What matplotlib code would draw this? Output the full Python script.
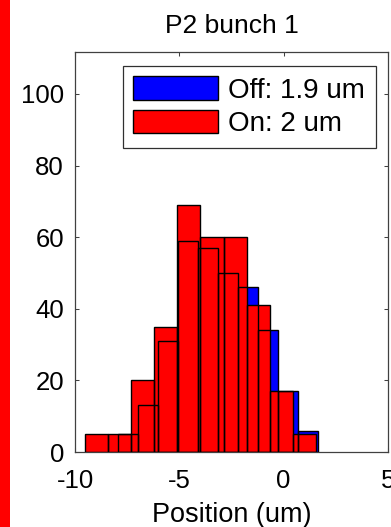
import numpy as np
import matplotlib
matplotlib.use('Agg')
from matplotlib import pyplot as plt
from matplotlib.patches import Patch, Rectangle

plt.rcParams['font.family'] = ['Liberation Sans', 'DejaVu Sans']
plt.rcParams['axes.unicode_minus'] = False

# histogram counts, 10 bins each between min and max position (um)
off_counts = [5, 13, 31, 59, 57, 50, 46, 34, 17, 6]
off_min, off_max = -7.96, 1.63
on_counts = [5, 5, 20, 35, 69, 60, 60, 41, 17, 5]
on_min, on_max = -9.53, 1.56

off_label = 'Off: 1.9 um'
on_label = 'On: 2 um'


def bins(lo, hi, n):
    e = np.linspace(lo, hi, n + 1)
    return e[:-1], np.diff(e)


fig = plt.figure(figsize=(3.91, 5.27), dpi=100)
ax = fig.add_axes([75 / 391, 1 - 452 / 527, 313 / 391, 400 / 527])

off_x, off_w = bins(off_min, off_max, len(off_counts))
on_x, on_w = bins(on_min, on_max, len(on_counts))

# faces first (blue under red), then every outline on top
ax.bar(off_x, off_counts, width=off_w, align='edge', color='#0000ff', edgecolor='none', zorder=1)
ax.bar(on_x, on_counts, width=on_w, align='edge', color='#ff0000', edgecolor='none', zorder=2)
ax.bar(off_x, off_counts, width=off_w, align='edge', fill=False, edgecolor='black', lw=1.0, zorder=3)
ax.bar(on_x, on_counts, width=on_w, align='edge', fill=False, edgecolor='black', lw=1.0, zorder=3)

ax.set_xlim(-9.89, 5.01)
ax.set_ylim(0, 111.7)
ax.set_xticks([-10, -5, 0, 5])
ax.set_yticks([0, 20, 40, 60, 80, 100])
ax.tick_params(direction='in', top=True, right=True, length=3, width=0.75,
               color='#404040', labelsize=18.5)
ax.tick_params(axis='x', pad=12)
ax.tick_params(axis='y', pad=8)
for s in ax.spines.values():
    s.set_color('#404040')
    s.set_linewidth(0.9)

ax.set_title('P2 bunch 1', fontsize=19, pad=14)
ax.set_xlabel('Position (um)', fontsize=19.5, labelpad=7)

handles = [Patch(facecolor='#0000ff', edgecolor='black', label=off_label),
           Patch(facecolor='#ff0000', edgecolor='black', label=on_label)]
leg = ax.legend(handles=handles, loc='upper right', bbox_to_anchor=(0.961, 0.966),
                borderaxespad=0, fancybox=False, framealpha=1, fontsize=20,
                handlelength=3.05, handleheight=0.94, handletextpad=0.37,
                labelspacing=0.22, borderpad=0.38)
leg.get_frame().set_edgecolor('#303030')
leg.get_frame().set_linewidth(0.9)

# red marker strip down the left edge
fig.patches.append(Rectangle((0, 0), 9.5 / 391, 1, transform=fig.transFigure,
                             facecolor='#ff0000', edgecolor='none'))

fig.savefig('out.png', dpi=100)
